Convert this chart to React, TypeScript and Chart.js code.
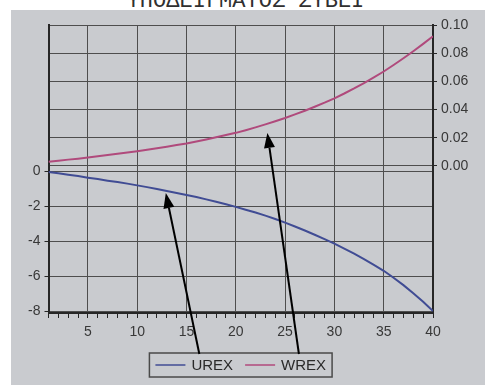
import React, { useEffect, useRef } from 'react';
import { Chart, registerables } from 'chart.js';

Chart.register(...registerables);

const TITLE = 'ΥΠΟΔΕΙΓΜΑΤΟΣ ΣΥΒΕΙ';

const PERIODS = [
  1, 2, 3, 4, 5, 6, 7, 8, 9, 10,
  11, 12, 13, 14, 15, 16, 17, 18, 19, 20,
  21, 22, 23, 24, 25, 26, 27, 28, 29, 30,
  31, 32, 33, 34, 35, 36, 37, 38, 39, 40,
];

const UREX = [
  -0.05, -0.13, -0.21, -0.29, -0.38, -0.46, -0.55, -0.63, -0.72, -0.82,
  -0.92, -1.03, -1.14, -1.25, -1.37, -1.49, -1.62, -1.76, -1.9, -2.05,
  -2.21, -2.37, -2.55, -2.74, -2.95, -3.17, -3.4, -3.64, -3.89, -4.15,
  -4.43, -4.72, -5.03, -5.36, -5.7, -6.1, -6.52, -6.98, -7.47, -8.0,
];

const WREX = [
  0.003, 0.0037, 0.0045, 0.0052, 0.006, 0.0069, 0.0077, 0.0086, 0.0095, 0.0105,
  0.0115, 0.0126, 0.0137, 0.0148, 0.016, 0.0174, 0.0188, 0.0203, 0.0219, 0.0235,
  0.0254, 0.0274, 0.0295, 0.0317, 0.034, 0.0366, 0.0392, 0.042, 0.0449, 0.048,
  0.0514, 0.055, 0.0588, 0.0628, 0.067, 0.0716, 0.0764, 0.0814, 0.0866, 0.092,
];

const SERIES_NAMES = ['UREX', 'WREX'];
const SERIES_COLORS = ['#404c94', '#b04a7c'];

const LEFT_TICKS = [-8, -6, -4, -2, 0];
const RIGHT_TICKS = [0, 0.02, 0.04, 0.06, 0.08, 0.1];
const X_LABEL_STEP = 5;

// annotation arrows (tips in data space, tails at the legend)
const ARROW_TIP_X = [12.9, 23.2];
const ARROW_TIP_Y = [-1.26, 0.0234];
const ARROW_AXIS = ['y', 'y1'];
const ARROW_TAIL_X = [16.3, 26.4];

const GRID = '#4e4e4e';
const AXIS = '#262626';
const TEXT = '#383838';
const FONT = '"Liberation Sans", Arial, sans-serif';

const legendPlugin = {
  id: 'boxLegend',
  afterDraw(chart: any) {
    const ctx = chart.ctx;
    const ca = chart.chartArea;
    ctx.save();
    ctx.font = '15px ' + FONT;
    const sample = 30, gapText = 6, gapItem = 12, pad = 6, h = 24;
    const items = chart.data.datasets.map((d: any) => ({
      label: d.label,
      color: d.borderColor,
      w: sample + gapText + ctx.measureText(d.label).width,
    }));
    const total = pad * 2 + items.reduce((s: number, i: any) => s + i.w, 0) + gapItem * (items.length - 1);
    const left = (ca.left + ca.right) / 2 - total / 2;
    const top = ca.bottom + 40;
    ctx.strokeStyle = '#4a4a4a';
    ctx.lineWidth = 1.5;
    ctx.strokeRect(left, top, total, h);
    let x = left + pad;
    const cy = top + h / 2;
    items.forEach((it: any) => {
      ctx.strokeStyle = it.color;
      ctx.globalAlpha = 0.75;
      ctx.lineWidth = 2;
      ctx.beginPath();
      ctx.moveTo(x, cy);
      ctx.lineTo(x + sample, cy);
      ctx.stroke();
      ctx.globalAlpha = 1;
      ctx.fillStyle = '#2a2a2a';
      ctx.textBaseline = 'middle';
      ctx.textAlign = 'left';
      ctx.fillText(it.label, x + sample + gapText, cy + 1);
      x += it.w + gapItem;
    });
    (chart as any).$legendTop = top;
    ctx.restore();
  },
};

const arrowPlugin = {
  id: 'arrows',
  afterDraw(chart: any) {
    const ctx = chart.ctx;
    const xs = chart.scales.x;
    const tailY = (chart as any).$legendTop ?? chart.chartArea.bottom + 40;
    ctx.save();
    ARROW_TIP_X.forEach((tx, i) => {
      const px = xs.getPixelForValue(tx);
      const py = chart.scales[ARROW_AXIS[i]].getPixelForValue(ARROW_TIP_Y[i]);
      const qx = xs.getPixelForValue(ARROW_TAIL_X[i]);
      const qy = tailY + 1;
      const ang = Math.atan2(py - qy, px - qx);
      const headLen = 15, headHalf = 5.5;
      const bx = px - Math.cos(ang) * headLen;
      const by = py - Math.sin(ang) * headLen;
      ctx.strokeStyle = '#000';
      ctx.lineWidth = 2;
      ctx.beginPath();
      ctx.moveTo(qx, qy);
      ctx.lineTo(bx, by);
      ctx.stroke();
      ctx.fillStyle = '#000';
      ctx.beginPath();
      ctx.moveTo(px, py);
      ctx.lineTo(bx + Math.sin(ang) * headHalf, by - Math.cos(ang) * headHalf);
      ctx.lineTo(bx - Math.sin(ang) * headHalf, by + Math.cos(ang) * headHalf);
      ctx.closePath();
      ctx.fill();
    });
    ctx.restore();
  },
};

export default function App() {
  const ref = useRef<HTMLCanvasElement | null>(null);

  useEffect(() => {
    document.body.style.margin = '0';
    if (!ref.current) return;
    const chart = new Chart(ref.current, {
      type: 'line',
      data: {
        datasets: [
          {
            label: SERIES_NAMES[0],
            data: PERIODS.map((p, i) => ({ x: p, y: UREX[i] })),
            borderColor: SERIES_COLORS[0],
            borderWidth: 2,
            pointRadius: 0,
            tension: 0,
            yAxisID: 'y',
          },
          {
            label: SERIES_NAMES[1],
            data: PERIODS.map((p, i) => ({ x: p, y: WREX[i] })),
            borderColor: SERIES_COLORS[1],
            borderWidth: 2,
            pointRadius: 0,
            tension: 0,
            yAxisID: 'y1',
          },
        ],
      },
      options: {
        responsive: false,
        animation: false,
        layout: { padding: { top: 15, left: 0, right: 0, bottom: 0 } },
        plugins: {
          legend: { display: false },
          title: { display: false },
          tooltip: { enabled: false },
        },
        scales: {
          x: {
            type: 'linear',
            min: PERIODS[0],
            max: PERIODS[PERIODS.length - 1],
            afterFit: (s: any) => { s.height = 72; },
            ticks: {
              stepSize: 1,
              autoSkip: false,
              maxRotation: 0,
              padding: 6,
              color: TEXT,
              font: { family: FONT, size: 14 },
              callback: (v: any) => (Number(v) % X_LABEL_STEP === 0 ? String(v) : ''),
            },
            grid: {
              color: (c: any) => (c.tick && c.tick.value % X_LABEL_STEP === 0 ? GRID : 'rgba(0,0,0,0)'),
              tickColor: AXIS,
              tickLength: 5,
              lineWidth: 1,
            },
            border: { color: AXIS, width: 2 },
          },
          y: {
            type: 'linear',
            position: 'left',
            min: -8.11,
            max: 8.34,
            afterFit: (s: any) => { s.width = 37.5; },
            afterBuildTicks: (s: any) => { s.ticks = LEFT_TICKS.map((v) => ({ value: v })); },
            ticks: {
              padding: 4,
              color: TEXT,
              font: { family: FONT, size: 14 },
              callback: (v: any) => String(v),
            },
            grid: { color: GRID, tickColor: AXIS, tickLength: 4, lineWidth: 1 },
            border: { color: AXIS, width: 2 },
          },
          y1: {
            type: 'linear',
            position: 'right',
            min: -0.1043,
            max: 0.1,
            afterFit: (s: any) => { s.width = 52; },
            afterBuildTicks: (s: any) => { s.ticks = RIGHT_TICKS.map((v) => ({ value: v })); },
            ticks: {
              padding: 4,
              color: TEXT,
              font: { family: FONT, size: 14 },
              callback: (v: any) => Number(v).toFixed(2),
            },
            grid: { color: GRID, tickColor: AXIS, tickLength: 4, lineWidth: 1 },
            border: { color: AXIS, width: 2 },
          },
        },
      },
      plugins: [legendPlugin, arrowPlugin],
    } as any);
    return () => chart.destroy();
  }, []);

  return (
    <div style={{ position: 'relative', width: 485, height: 385, background: '#ffffff', overflow: 'hidden' }}>
      <div
        style={{
          position: 'absolute',
          top: -9,
          left: 3,
          width: 485,
          textAlign: 'center',
          fontFamily: '"Liberation Mono", "Courier New", monospace',
          fontSize: 22,
          lineHeight: '22px',
          color: '#303030',
          whiteSpace: 'nowrap',
        }}
      >
        {TITLE}
      </div>
      <div style={{ position: 'absolute', left: 11, top: 10, width: 474, height: 375, background: '#c9cbcf' }}>
        <canvas ref={ref} width={474} height={375} style={{ display: 'block' }} />
      </div>
    </div>
  );
}
